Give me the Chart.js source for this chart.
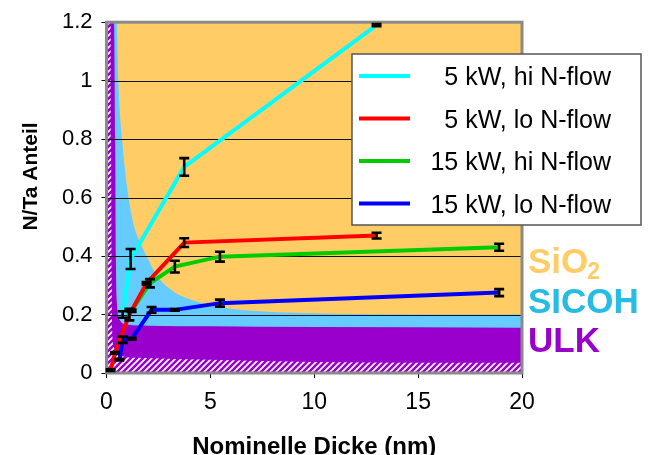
<!DOCTYPE html>
<html><head><meta charset="utf-8">
<script src="https://cdn.jsdelivr.net/npm/chart.js@4/dist/chart.umd.min.js"></script>
<style>html,body{margin:0;padding:0;background:#fff;}#wrap{width:654px;height:455px;}</style>
</head><body><div id="wrap"><canvas id="c" width="654" height="455"></canvas></div>
<script>
// ---- data ----
const seriesLabels = ['5 kW, hi N-flow', '5 kW, lo N-flow', '15 kW, hi N-flow', '15 kW, lo N-flow'];
const cyanX = [0.78, 1.16, 3.74, 13.0];
const cyanY = [0.20, 0.39, 0.705, 1.19];
const cyanErr = [0.011, 0.034, 0.03, 0.004];
const redX = [0.2, 0.41, 1.1, 1.93, 3.74, 13.0];
const redY = [0.01, 0.069, 0.2, 0.307, 0.446, 0.47];
const redErr = [0.003, 0.003, 0.02, 0.004, 0.015, 0.01];
const greenX = [1.21, 2.09, 3.29, 5.46, 18.9];
const greenY = [0.213, 0.307, 0.364, 0.398, 0.43];
const greenErr = [0.004, 0.014, 0.02, 0.017, 0.012];
const blueX = [0.62, 0.78, 1.21, 2.17, 3.29, 5.46, 18.9];
const blueY = [0.046, 0.114, 0.117, 0.216, 0.216, 0.239, 0.275];
const blueErr = [0.003, 0.011, 0.003, 0.01, 0.003, 0.012, 0.012];
// material layer boundaries (upper edge of each layer)
const sio2X = [0, 20];
const sio2Y = [1.2, 1.2];
const sicohX = [0, 0.49, 0.57, 0.75, 1.0, 1.13, 1.3, 1.6, 2.0, 2.45, 3.2, 4.0, 5.6, 7.2, 11, 20];
const sicohY = [1.2, 1.2, 1.0, 0.8, 0.63, 0.57, 0.51, 0.45, 0.39, 0.33, 0.28, 0.252, 0.224, 0.212, 0.203, 0.2];
const ulkX = [0, 0.36, 0.42, 0.45, 0.5, 0.65, 1.0, 2, 5, 10, 20];
const ulkY = [1.2, 1.2, 0.8, 0.4, 0.24, 0.18, 0.166, 0.162, 0.16, 0.157, 0.155];
const hatchX = [0, 0.2, 0.22, 0.25, 0.27, 0.35, 0.65, 1.5, 5, 10, 20];
const hatchY = [1.2, 1.2, 0.8, 0.3, 0.15, 0.09, 0.06, 0.052, 0.045, 0.038, 0.035];
const layerLabels = ['SiO', 'SICOH', 'ULK'];
const xTicks = [0, 5, 10, 15, 20];
const yTicks = [0, 0.2, 0.4, 0.6, 0.8, 1, 1.2];
const yTickLabels = ['0', '0.2', '0.4', '0.6', '0.8', '1', '1.2'];

// ---- styling ----
const FONT = "'Liberation Sans', Arial, sans-serif";
Chart.defaults.font.family = FONT;
Chart.defaults.color = '#000';
const seriesColors = ['#00FFFF', '#FF0000', '#00CC00', '#0000FF'];

function makeHatch() {
  const p = document.createElement('canvas'); p.width = 6; p.height = 6;
  const g = p.getContext('2d');
  g.fillStyle = '#9900CC'; g.fillRect(0, 0, 6, 6);
  g.strokeStyle = '#ffffff'; g.lineWidth = 1.7;
  g.beginPath();
  g.moveTo(-1, 7); g.lineTo(7, -1);
  g.moveTo(-4, 4); g.lineTo(4, -4);
  g.moveTo(2, 10); g.lineTo(10, 2);
  g.stroke();
  return g.createPattern(p, 'repeat');
}
const pts = (xs, ys) => xs.map((x, i) => ({ x, y: ys[i] }));
function seriesDs(i, xs, ys, errs) {
  return { label: seriesLabels[i], data: pts(xs, ys), errors: errs, borderColor: seriesColors[i],
    backgroundColor: seriesColors[i], borderWidth: 4, pointRadius: 0, fill: false, tension: 0, order: 0, legend: true };
}
function regionDs(label, color, xs, ys, order, gridAfter) {
  return { label, data: pts(xs, ys), backgroundColor: color, borderColor: 'rgba(0,0,0,0)', borderWidth: 0,
    pointRadius: 0, fill: 'origin', cubicInterpolationMode: 'monotone', order, gridAfter: !!gridAfter };
}

const gridPlugin = {
  id: 'gridAfterFill',
  afterDatasetDraw(chart, args) {
    const ds = chart.data.datasets[args.index];
    if (!ds.gridAfter) return;
    const { ctx, chartArea: a, scales: { y } } = chart;
    ctx.save();
    ctx.strokeStyle = '#111'; ctx.lineWidth = 1;
    yTicks.forEach(v => {
      if (v === 0 || v === 1.2) return;
      const py = Math.round(y.getPixelForValue(v)) + 0.5;
      ctx.beginPath(); ctx.moveTo(a.left, py); ctx.lineTo(a.right, py); ctx.stroke();
    });
    ctx.strokeStyle = '#8a8a8a'; ctx.lineWidth = 3;
    ctx.strokeRect(a.left, a.top, a.right - a.left, a.bottom - a.top);
    ctx.restore();
  }
};

const errPlugin = {
  id: 'errBars',
  afterDatasetsDraw(chart) {
    const { ctx, scales: { x, y } } = chart;
    ctx.save(); ctx.strokeStyle = '#000'; ctx.lineWidth = 2.6;
    chart.data.datasets.forEach(ds => {
      if (!ds.errors) return;
      ds.data.forEach((p, i) => {
        const e = ds.errors[i];
        const px = x.getPixelForValue(p.x);
        const t = y.getPixelForValue(p.y + e), b = y.getPixelForValue(p.y - e);
        ctx.beginPath();
        ctx.moveTo(px, t); ctx.lineTo(px, b);
        ctx.moveTo(px - 5, t); ctx.lineTo(px + 5, t);
        ctx.moveTo(px - 5, b); ctx.lineTo(px + 5, b);
        ctx.stroke();
      });
    });
    ctx.restore();
  }
};

const decoPlugin = {
  id: 'deco',
  afterDraw(chart) {
    const ctx = chart.ctx;
    ctx.save();
    // legend
    ctx.fillStyle = '#fff'; ctx.fillRect(352, 54, 289, 171);
    ctx.strokeStyle = '#555'; ctx.lineWidth = 1.5; ctx.strokeRect(352, 54, 289, 171);
    const items = chart.data.datasets.filter(d => d.legend);
    ctx.font = '25px ' + FONT; ctx.textAlign = 'right'; ctx.textBaseline = 'alphabetic';
    items.forEach((d, i) => {
      const cy = 76 + i * 42.5;
      ctx.strokeStyle = d.borderColor; ctx.lineWidth = 4;
      ctx.beginPath(); ctx.moveTo(359, cy); ctx.lineTo(410, cy); ctx.stroke();
      ctx.fillStyle = '#000'; ctx.fillText(d.label, 611, cy + 9);
    });
    // y title
    ctx.save();
    ctx.translate(36.5, 176.5); ctx.rotate(-Math.PI / 2);
    ctx.font = 'bold 21px ' + FONT; ctx.textAlign = 'center'; ctx.fillStyle = '#000';
    ctx.fillText('N/Ta Anteil', 0, 0);
    ctx.restore();
    // layer labels
    ctx.textAlign = 'left';
    ctx.font = 'bold 35px ' + FONT;
    ctx.fillStyle = '#FFCC66'; ctx.fillText(layerLabels[0], 528, 273);
    const w = ctx.measureText(layerLabels[0]).width;
    ctx.font = 'bold 23px ' + FONT; ctx.fillText('2', 528 + w - 1, 278.5);
    ctx.font = 'bold 35px ' + FONT;
    ctx.fillStyle = '#26BCE3'; ctx.fillText(layerLabels[1], 528, 312.5);
    ctx.fillStyle = '#9900CC'; ctx.fillText(layerLabels[2], 528, 351.5);
    ctx.restore();
  }
};

new Chart(document.getElementById('c'), {
  type: 'line',
  data: {
    datasets: [
      seriesDs(0, cyanX, cyanY, cyanErr),
      seriesDs(1, redX, redY, redErr),
      seriesDs(2, greenX, greenY, greenErr),
      seriesDs(3, blueX, blueY, blueErr),
      regionDs('hatch', makeHatch(), hatchX, hatchY, 1, true),
      regionDs('ULK', '#9900CC', ulkX, ulkY, 2),
      regionDs('SICOH', '#66CCFF', sicohX, sicohY, 3),
      regionDs('SiO2', '#FFCC66', sio2X, sio2Y, 4)
    ]
  },
  options: {
    responsive: false, animation: false, devicePixelRatio: 1,
    layout: { padding: { left: 0, right: 132, top: 19, bottom: 0 } },
    plugins: { legend: { display: false }, tooltip: { enabled: false } },
    scales: {
      x: {
        type: 'linear', min: 0, max: 20,
        afterBuildTicks: s => { s.ticks = xTicks.map(v => ({ value: v })); },
        afterFit: s => { s.height = 82; },
        ticks: { font: { size: 23 }, color: '#000', padding: 11, maxRotation: 0 },
        grid: { drawOnChartArea: false, color: '#000', tickLength: 5 },
        border: { display: false },
        title: { display: true, text: 'Nominelle Dicke (nm)', font: { size: 24, weight: 'bold' }, color: '#000', padding: { top: 0, bottom: -7 } }
      },
      y: {
        type: 'linear', min: 0, max: 1.2,
        afterBuildTicks: s => { s.ticks = yTicks.map(v => ({ value: v })); },
        afterFit: s => { s.width = 106.5; },
        ticks: { font: { size: 22 }, color: '#000', padding: 9, callback: (v) => yTickLabels[yTicks.indexOf(v)] },
        grid: { drawOnChartArea: false, color: '#000', tickLength: 5 },
        border: { display: false }
      }
    }
  },
  plugins: [gridPlugin, errPlugin, decoPlugin]
});
</script></body></html>
